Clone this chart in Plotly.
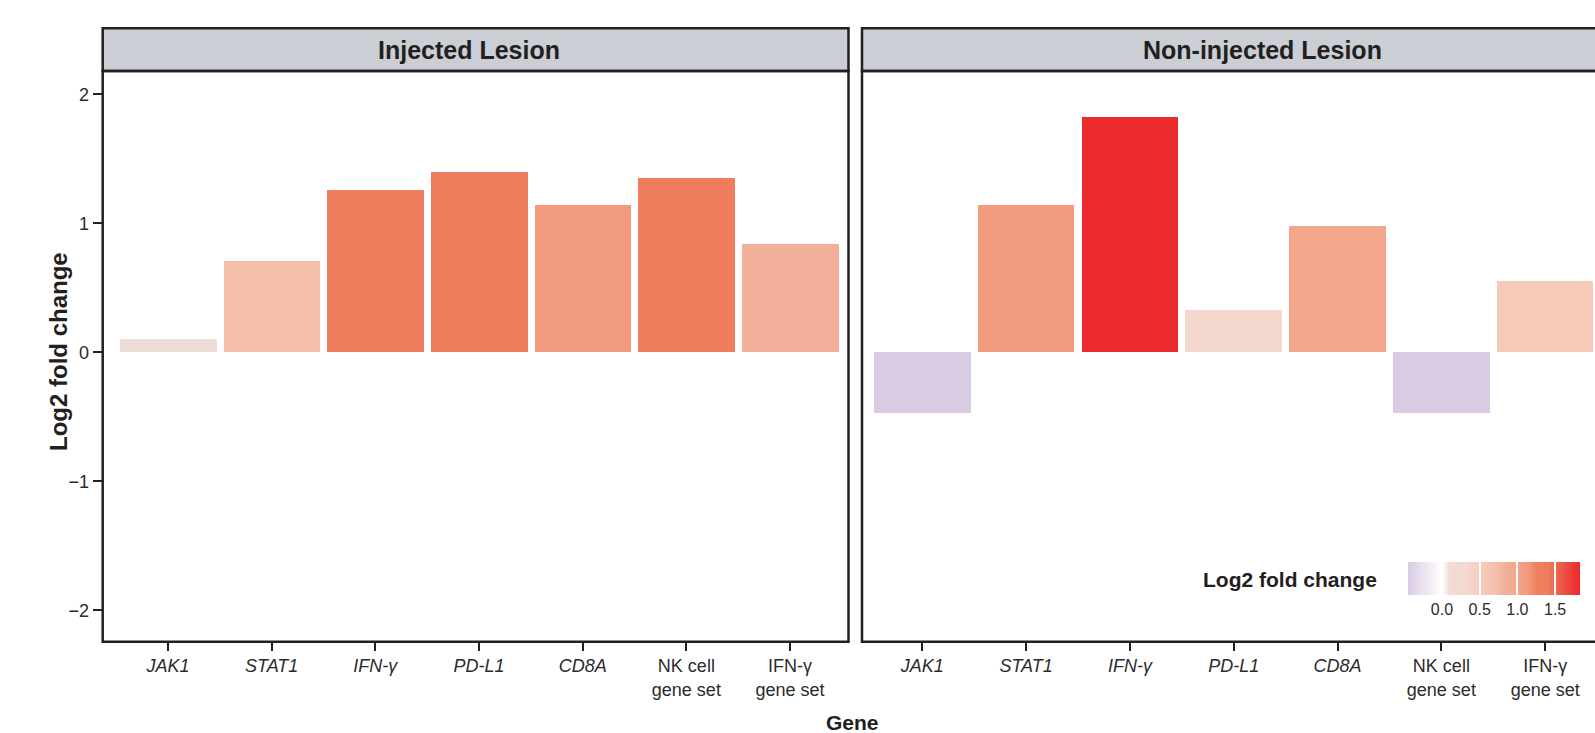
import plotly.graph_objects as go

# ---------------- data ----------------
genes = ["JAK1", "STAT1", "IFN-γ", "PD-L1", "CD8A", "NK cell gene set", "IFN-γ gene set"]
gene_labels = ["<i>JAK1</i>", "<i>STAT1</i>", "<i>IFN-γ</i>", "<i>PD-L1</i>", "<i>CD8A</i>",
               "NK cell<br>gene set", "IFN-γ<br>gene set"]
injected = [0.10, 0.71, 1.26, 1.40, 1.14, 1.35, 0.84]
non_injected = [-0.47, 1.14, 1.82, 0.33, 0.98, -0.47, 0.55]
panel_titles = ["Injected Lesion", "Non-injected Lesion"]
y_ticks = [-2, -1, 0, 1, 2]
cbar_ticks = [0.0, 0.5, 1.0, 1.5]

# ---------------- colour scale ----------------
cmin, cmax = -0.45, 1.83
scale_points = [(-0.45, "#d9cbe3"), (0.0, "#ffffff"), (0.10, "#f0dcd7"), (0.33, "#f4d8ce"),
                (0.555, "#f7c9b9"), (0.71, "#f4bfab"), (0.84, "#f2b09a"), (0.98, "#f3a68c"),
                (1.14, "#f19a7e"), (1.26, "#ef7e5f"), (1.40, "#ef7c5d"), (1.83, "#eb282d")]
colorscale = [[(v - cmin) / (cmax - cmin), c] for v, c in scale_points]

W, H = 1595, 733
def px(x):
    return x / W
def py(y):
    return 1 - y / H

# layout in pixels
L1, R1 = 102.7, 848.5
L2, R2 = 862.0, 1595.0
TOP_STRIP, TOP, BOT = 28.3, 71.0, 641.7

DARK = "#231f20"
FONT = "Liberation Sans, Arial, sans-serif"

fig = go.Figure()
fig.add_trace(go.Bar(x=genes, y=injected, xaxis="x", yaxis="y", width=0.93,
                     marker=dict(color=injected, coloraxis="coloraxis", line=dict(width=0)),
                     showlegend=False))
fig.add_trace(go.Bar(x=genes, y=non_injected, xaxis="x2", yaxis="y2", width=0.93,
                     marker=dict(color=non_injected, coloraxis="coloraxis", line=dict(width=0)),
                     showlegend=False))

xax = dict(type="category", categoryorder="array", categoryarray=genes,
           tickvals=genes, ticktext=gene_labels, ticks="outside", ticklen=8, tickwidth=2,
           tickcolor=DARK, showline=False, showgrid=False, zeroline=False,
           tickfont=dict(family=FONT, size=18, color="#2b2b2b"))
yrange = [-2.243, 2.18]

fig.update_layout(
    width=W, height=H,
    margin=dict(l=0, r=0, t=0, b=0),
    paper_bgcolor="white", plot_bgcolor="white",
    bargap=0,
    xaxis=dict(xax, domain=[px(L1), px(R1)], range=[-0.63, 6.564], anchor="y"),
    xaxis2=dict(xax, domain=[px(L2), 1.0], range=[-0.581, 6.48], anchor="y2"),
    yaxis=dict(domain=[py(BOT), py(TOP)], range=yrange, tickvals=y_ticks,
               ticks="outside", ticklen=9, tickwidth=2, tickcolor=DARK,
               showgrid=False, zeroline=False, showline=False,
               tickfont=dict(family=FONT, size=18, color="#2b2b2b"), anchor="x"),
    yaxis2=dict(domain=[py(BOT), py(TOP)], range=yrange, matches="y",
                showticklabels=False, ticks="", showgrid=False, zeroline=False,
                showline=False, anchor="x2"),
    coloraxis=dict(
        colorscale=colorscale, cmin=cmin, cmax=cmax,
        colorbar=dict(orientation="h", x=px(1408), xanchor="left", y=py(561.7), yanchor="top",
                      lenmode="pixels", len=172, thickness=33, xpad=0, ypad=0,
                      outlinewidth=0, tickvals=cbar_ticks, tickformat=".1f",
                      ticks="inside", ticklen=33, tickwidth=2, tickcolor="white",
                      tickfont=dict(family=FONT, size=16, color="#2b2b2b"))),
)

shapes = []
# strips and panel frames
for (l, r) in [(L1, R1), (L2, R2 + 20)]:
    shapes.append(dict(type="rect", xref="paper", yref="paper", x0=px(l), x1=px(r),
                       y0=py(TOP), y1=py(TOP_STRIP), fillcolor="#cbced5",
                       line=dict(color=DARK, width=2.5), layer="below"))
    shapes.append(dict(type="rect", xref="paper", yref="paper", x0=px(l), x1=px(r),
                       y0=py(BOT), y1=py(TOP), fillcolor="rgba(0,0,0,0)",
                       line=dict(color=DARK, width=2.5), layer="above"))
fig.update_layout(shapes=shapes)

annotations = [
    dict(text="<b>" + panel_titles[0] + "</b>", x=px(469), y=py(49.7), xref="paper", yref="paper",
         showarrow=False, xanchor="center", yanchor="middle",
         font=dict(family=FONT, size=25, color=DARK)),
    dict(text="<b>" + panel_titles[1] + "</b>", x=px(1262), y=py(49.7), xref="paper", yref="paper",
         showarrow=False, xanchor="center", yanchor="middle",
         font=dict(family=FONT, size=25, color=DARK)),
    dict(text="<b>Log2 fold change</b>", x=px(58), y=py(352), xref="paper", yref="paper",
         showarrow=False, textangle=-90, xanchor="center", yanchor="middle",
         font=dict(family=FONT, size=24, color=DARK)),
    dict(text="<b>Gene</b>", x=px(853), y=0, xref="paper", yref="paper",
         showarrow=False, xanchor="center", yanchor="bottom", yshift=-3,
         font=dict(family=FONT, size=21, color=DARK)),
    dict(text="<b>Log2 fold change</b>", x=px(1379), y=py(579), xref="paper", yref="paper",
         showarrow=False, xanchor="right", yanchor="middle",
         font=dict(family=FONT, size=21, color=DARK)),
]
fig.update_layout(annotations=annotations)

fig.write_html("out.html")
